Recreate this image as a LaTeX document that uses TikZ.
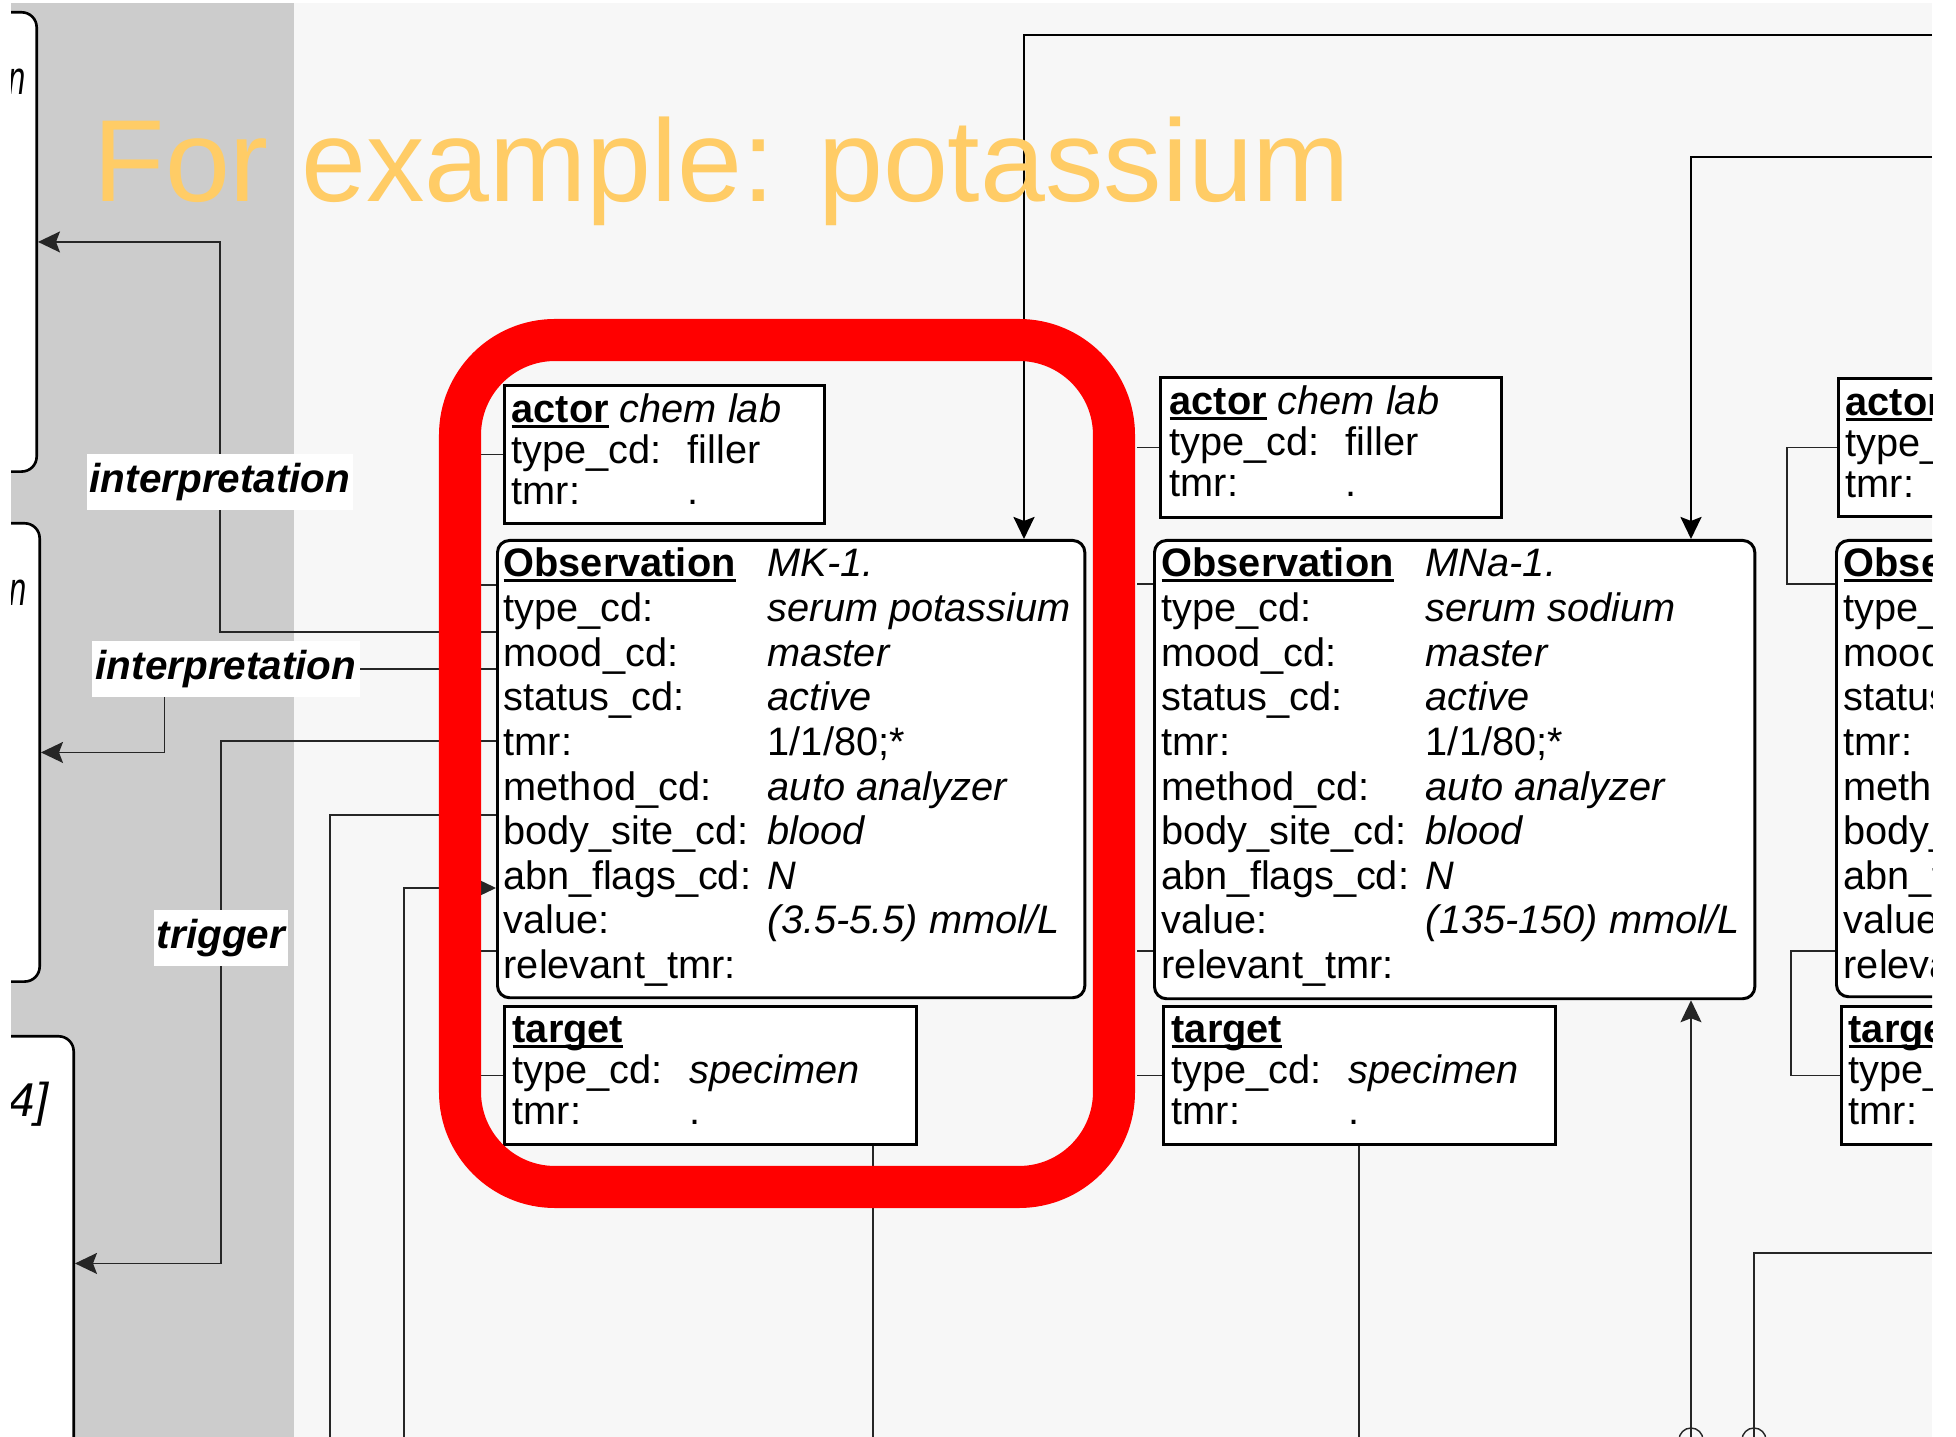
\documentclass[tikz,border=0pt]{standalone}
\usepackage{fontspec}
\setmainfont{Liberation Sans}
\usepackage{array}
\usetikzlibrary{arrows.meta,positioning}

\definecolor{panelGray}{HTML}{CCCCCC}
\definecolor{sheetGray}{HTML}{F7F7F7}
\definecolor{titleAmber}{HTML}{FFCC66}
\definecolor{markRed}{HTML}{FF0000}

\newcommand{\fieldsize}{\fontsize{11.3}{12.69}\selectfont}
\newcommand{\partsize}{\fontsize{11.3}{11.55}\selectfont}
\newsavebox{\clsbox}
\newcommand{\clsname}[1]{\leavevmode\sbox{\clsbox}{\textbf{#1}}%
  \rlap{\rule[-1.3pt]{\wd\clsbox}{0.6pt}}\usebox{\clsbox}}

\begin{document}
\begin{tikzpicture}[x=0.01cm, y=-0.01cm,
    obsbox/.style={draw, line width=0.85pt, fill=white, rounded corners=0.12cm,
      anchor=north west, inner sep=0pt},
    partbox/.style={draw, line width=0.9pt, fill=white, anchor=north west,
      inner sep=0pt, minimum height=1.38cm},
    sidebox/.style={draw, line width=0.75pt, fill=white, rounded corners=0.15cm,
      anchor=north east, inner sep=0pt, minimum width=1.6cm},
    fields/.style={anchor=base west, inner sep=0pt, font=\fieldsize},
    parts/.style={anchor=base west, inner sep=0pt, font=\partsize},
    tag/.style={fill=white, inner sep=0pt, minimum height=0.55cm,
      font=\fontsize{11.5}{13}\selectfont\bfseries\itshape},
    tail/.style={anchor=base east, inner sep=0pt,
      font=\fontsize{13.5}{16}\selectfont\itshape},
    link/.style={draw=black!85, line width=0.4pt},
    heavy/.style={draw=black, line width=0.75pt},
    >={Stealth[length=0.22cm, width=0.21cm, inset=0.04cm]}
  ]
  \useasboundingbox (0,0) rectangle (1956,1437);
  \fill[white] (0,0) rectangle (1956,1437);

  \begin{scope}
    \clip (11,3) rectangle (1932,1437);
    \fill[sheetGray] (11,3) rectangle (1932,1437);
    \fill[panelGray] (11,3) rectangle (294,1437);

    % Left panel boxes (cut off)
    \node[sidebox, minimum height=4.59cm] (boxA) at (38,11) {};
    \node[tail] (tailA) at (26,95) {\scalebox{0.65}[1]{n}};
    \node[sidebox, minimum height=4.58cm] (boxB) at (41,522) {};
    \node[tail] (tailB) at (27,606) {\scalebox{0.65}[1]{n}};
    \node[sidebox, minimum height=4.54cm] (boxC) at (75,1035) {};
    \node[tail] (tailC) at (49,1117) {4]};

    % Relationship labels
    \node[tag, minimum width=2.66cm] (lblInterpA) at (220,482) {interpretation};
    \node[tag, minimum width=2.67cm] (lblInterpB) at (226,669) {interpretation};
    \node[tag, minimum width=1.34cm] (lblTrigger) at (221,938) {trigger};

    % Potassium column
    \node[partbox, minimum width=3.20cm] (actK) at (503,384) {};
    \node[parts] (actKtxt) at (511,423) {\begin{tabular}[t]{@{}p{1.76cm}@{}l@{}}
        \multicolumn{2}{@{}l@{}}{\clsname{actor} \textit{chem lab}}\\
        type\_cd: & filler\\
        tmr: & .
      \end{tabular}};

    \node[obsbox, minimum width=5.87cm, minimum height=4.57cm] (obsK) at (496,539) {};
    \node[fields] (obsKtxt) at (503,577) {\begin{tabular}[t]{@{}p{2.64cm}@{}l@{}}
        \clsname{Observation} & \textit{MK-1.}\\
        type\_cd: & \textit{serum potassium}\\
        mood\_cd: & \textit{master}\\
        status\_cd: & \textit{active}\\
        tmr: & 1/1/80;*\\
        method\_cd: & \textit{auto analyzer}\\
        body\_site\_cd: & \textit{blood}\\
        abn\_flags\_cd: & \textit{N}\\
        value: & \textit{(3.5-5.5) mmol/L}\\
        relevant\_tmr: &
      \end{tabular}};

    \node[partbox, minimum width=4.12cm] (tgtK) at (503,1005) {};
    \node[parts] (tgtKtxt) at (512,1043) {\begin{tabular}[t]{@{}p{1.77cm}@{}l@{}}
        \multicolumn{2}{@{}l@{}}{\clsname{target}}\\
        type\_cd: & \textit{specimen}\\
        tmr: & .
      \end{tabular}};

    % Sodium column
    \node[partbox, minimum width=3.41cm, minimum height=1.40cm] (actNa) at (1159,376) {};
    \node[parts] (actNatxt) at (1169,415) {\begin{tabular}[t]{@{}p{1.76cm}@{}l@{}}
        \multicolumn{2}{@{}l@{}}{\clsname{actor} \textit{chem lab}}\\
        type\_cd: & filler\\
        tmr: & .
      \end{tabular}};

    \node[obsbox, minimum width=6.00cm, minimum height=4.58cm] (obsNa) at (1153,539) {};
    \node[fields] (obsNatxt) at (1161,577) {\begin{tabular}[t]{@{}p{2.64cm}@{}l@{}}
        \clsname{Observation} & \textit{MNa-1.}\\
        type\_cd: & \textit{serum sodium}\\
        mood\_cd: & \textit{master}\\
        status\_cd: & \textit{active}\\
        tmr: & 1/1/80;*\\
        method\_cd: & \textit{auto analyzer}\\
        body\_site\_cd: & \textit{blood}\\
        abn\_flags\_cd: & \textit{N}\\
        value: & \textit{(135-150) mmol/L}\\
        relevant\_tmr: &
      \end{tabular}};

    \node[partbox, minimum width=3.92cm] (tgtNa) at (1162,1005) {};
    \node[parts] (tgtNatxt) at (1171,1043) {\begin{tabular}[t]{@{}p{1.77cm}@{}l@{}}
        \multicolumn{2}{@{}l@{}}{\clsname{target}}\\
        type\_cd: & \textit{specimen}\\
        tmr: & .
      \end{tabular}};

    % Third column (cut off)
    \node[partbox, minimum width=3.41cm] (actX) at (1837,377) {};
    \node[parts] (actXtxt) at (1845,416) {\begin{tabular}[t]{@{}l@{}}
        \clsname{actor}\\ type\_cd:\\ tmr:
      \end{tabular}};
    \node[obsbox, minimum width=6.00cm, minimum height=4.56cm] (obsX) at (1835,539) {};
    \node[fields] (obsXtxt) at (1843,577) {\begin{tabular}[t]{@{}l@{}}
        \clsname{Observation}\\ type\_cd:\\ mood\_cd:\\ status\_cd:\\ tmr:\\
        method\_cd:\\ body\_site\_cd:\\ abn\_flags\_cd:\\ value:\\ relevant\_tmr:
      \end{tabular}};
    \node[partbox, minimum width=3.92cm] (tgtX) at (1840,1005) {};
    \node[parts] (tgtXtxt) at (1848,1043) {\begin{tabular}[t]{@{}l@{}}
        \clsname{target}\\ type\_cd:\\ tmr:
      \end{tabular}};

    % Free ends
    \coordinate (busK) at (460,0);
    \coordinate (busNa) at (1137,0);
    \coordinate (edgeA) at (1932,35);
    \coordinate (edgeB) at (1932,157);
    \coordinate (edgeC) at (1932,1253);
    \coordinate (footA) at (330,1437);
    \coordinate (footB) at (404,1437);
    \coordinate (footC) at (1691,1440);
    \coordinate (footD) at (1754,1440);
    \coordinate (footE) at (873,1437);
    \coordinate (footF) at (1359,1437);

    % Arrows to the left panel
    \draw[link] (obsK.west |- 0,632) -| (lblInterpA.south);
    \draw[link,->] (lblInterpA.north) |- (boxA.east);
    \draw[link] (obsK.west |- lblInterpB.east) -- (lblInterpB.east);
    \draw[link,->] ([xshift=0.73cm]lblInterpB.south west) |- (boxB.east);
    \draw[link] (obsK.west |- 0,741) -| (lblTrigger.north);
    \draw[link,->] (lblTrigger.south) |- (boxC.east);
    \draw[link] (obsK.west |- 0,815) -| (footA);
    \draw[link,->] (footB) |- (obsK.west |- 0,888);

    % Participation stubs
    \draw[link] (busK |- actK.west) -- (actK.west);
    \draw[link] (busK |- 0,585) -- (obsK.west |- 0,585);
    \draw[link] (busK |- 0,951) -- (obsK.west |- 0,951);
    \draw[link] (busK |- tgtK.west) -- (tgtK.west);
    \draw[link] (busNa |- actNa.west) -- (actNa.west);
    \draw[link] (busNa |- 0,584) -- (obsNa.west |- 0,584);
    \draw[link] (busNa |- 0,951) -- (obsNa.west |- 0,951);
    \draw[link] (busNa |- tgtNa.west) -- (tgtNa.west);
    \draw[link] (actX.west) -- ++(-50,0) |- (obsX.west |- 0,584);
    \draw[link] (obsX.west |- 0,951) -- ++(-44,0) |- (tgtX.west);

    % Arrows from the right and below
    \draw[heavy,->] (edgeA) -| (obsK.north -| 1024,0);
    \draw[heavy,->] (edgeB) -| (obsNa.north -| 1691,0);
    \draw[link,->] (footC) -- (obsNa.south -| footC);
    \draw[link] (footD) |- (edgeC);
    \draw[link] (footC) circle[radius=0.12cm];
    \draw[link] (footD) circle[radius=0.12cm];
    \draw[link] (tgtK.south -| footE) -- (footE);
    \draw[link] (tgtNa.south -| footF) -- (footF);

    % Title and highlight
    \node[anchor=base west, inner sep=0pt, text=titleAmber,
      font=\fontsize{33.2}{40}\selectfont] (title) at (93,202) {For example: potassium};
    \draw[markRed, line width=0.42cm, rounded corners=0.95cm] (460,340) rectangle (1114,1187);
  \end{scope}
\end{tikzpicture}
\end{document}
